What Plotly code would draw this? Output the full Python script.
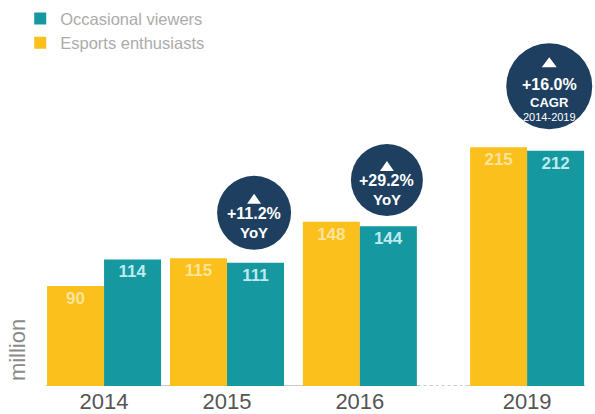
import plotly.graph_objects as go

years = ["2014", "2015", "2016", "2019"]
enthusiasts = [90, 115, 148, 215]
occasional = [114, 111, 144, 212]
badge_pct = ["+11.2%", "+29.2%", "+16.0%"]
badge_kind = ["YoY", "YoY", "CAGR"]
badge_sub = ["", "", "2014-2019"]

# layout positions (x slots / badge placement, not data)
x_pos = [0, 1, 2.08, 3.44]
badge_x = [1.22, 2.30, 3.62]
badge_y = [156, 185.6, 270]
badge_r = [37, 36, 43]

YELLOW = "#FBC01B"
TEAL = "#15989F"
NAVY = "#1E3F5F"
FONT = "Liberation Sans"

fig = go.Figure()
fig.add_trace(go.Bar(
    x=x_pos, y=enthusiasts, name="Esports enthusiasts",
    marker=dict(color=YELLOW, line=dict(width=0)),
    text=[f"<b>{v}</b>" for v in enthusiasts], textposition="inside",
    insidetextanchor="end", textangle=0,
    textfont=dict(color="#FDE49A", size=17, family=FONT),
))
fig.add_trace(go.Bar(
    x=x_pos, y=occasional, name="Occasional viewers",
    marker=dict(color=TEAL, line=dict(width=0)),
    text=[f"<b>{v}</b>" for v in occasional], textposition="inside",
    insidetextanchor="end", textangle=0,
    textfont=dict(color="#BFEAEE", size=17, family=FONT),
))

shapes = []
# baseline
shapes.append(dict(type="line", xref="x", yref="y", x0=-0.47, x1=2.55, y0=0, y1=0,
                   line=dict(color="#BBBBBB", width=1.5), layer="below"))
shapes.append(dict(type="line", xref="x", yref="y", x0=2.55, x1=2.97, y0=0, y1=0,
                   line=dict(color="#BBBBBB", width=1.5, dash="dot"), layer="below"))
shapes.append(dict(type="line", xref="x", yref="y", x0=2.97, x1=3.91, y0=0, y1=0,
                   line=dict(color="#BBBBBB", width=1.5), layer="below"))

annotations = []
for pct, kind, sub, bx, by, r in zip(badge_pct, badge_kind, badge_sub, badge_x, badge_y, badge_r):
    shapes.append(dict(type="circle", xref="x", yref="y", xsizemode="pixel", ysizemode="pixel",
                       xanchor=bx, yanchor=by, x0=-r, x1=r, y0=-r, y1=r,
                       fillcolor=NAVY, line=dict(width=0), layer="above"))
    # up-arrow icon
    tb, tt, hw = (19, 29, 7.5) if sub else (9, 19, 7)
    shapes.append(dict(type="path", xref="x", yref="y", xsizemode="pixel", ysizemode="pixel",
                       xanchor=bx, yanchor=by,
                       path=f"M {-hw} {tb} L {hw} {tb} L 0 {tt} Z",
                       fillcolor="white", line=dict(width=0), layer="above"))
    if sub:
        items = [(pct, 16, 1.5, True), (kind, 13, -16.5, True), (sub, 11, -31, False)]
    else:
        items = [(pct, 16, -1, True), (kind, 15, -19.5, True)]
    for txt, size, shift, bold in items:
        annotations.append(dict(
            x=bx, y=by, xref="x", yref="y", showarrow=False,
            text=f"<b>{txt}</b>" if bold else txt, align="center",
            font=dict(color="white", size=size, family=FONT),
            yshift=shift, yanchor="middle", borderpad=0,
        ))

annotations.append(dict(
    x=0.0286, y=0.093, xref="paper", yref="paper", showarrow=False,
    text="million", textangle=-90, xanchor="center", yanchor="middle",
    font=dict(color="#8A8A8A", size=22, family=FONT),
))

fig.update_layout(
    width=595, height=414,
    margin=dict(l=0, r=0, t=0, b=28, autoexpand=False),
    paper_bgcolor="white", plot_bgcolor="white",
    barmode="group", bargap=0.073, bargroupgap=0,
    showlegend=True,
    legend=dict(x=0.034, y=0.997, xanchor="left", yanchor="top", traceorder="reversed",
                font=dict(color="#ABABAB", size=16.5, family=FONT),
                itemwidth=30, tracegroupgap=0, bgcolor="rgba(0,0,0,0)"),
    xaxis=dict(range=[-0.846, 3.992], tickmode="array", tickvals=x_pos, ticktext=years,
               showgrid=False, zeroline=False, showline=False, ticks="",
               automargin=False,
               tickfont=dict(color="#555555", size=22, family=FONT)),
    yaxis=dict(range=[0, 347.7], visible=False, showgrid=False, zeroline=False),
    shapes=shapes,
    annotations=annotations,
    font=dict(family=FONT),
)

fig.write_html("out.html", config={"displayModeBar": False},
               post_script="document.body.style.margin='0';document.body.style.padding='0';")
